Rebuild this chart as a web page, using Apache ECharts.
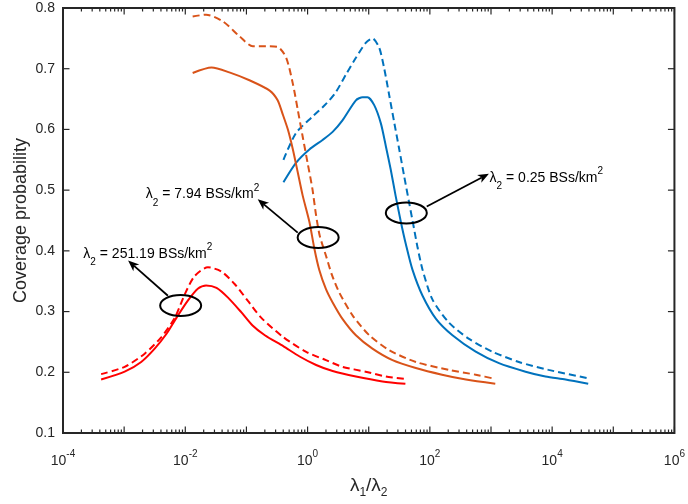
<!DOCTYPE html>
<html><head><meta charset="utf-8">
<script src="https://cdn.jsdelivr.net/npm/echarts@6/dist/echarts.min.js"></script>
<style>html,body{margin:0;padding:0;background:#fff}#c{width:688px;height:504px}#err{position:absolute;left:70px;top:10px;font:10px monospace;color:#a00;width:600px;white-space:pre-wrap}</style>
</head><body><div id="c"></div><div id="err"></div>
<script>
const errBox = document.getElementById('err');
const logErr = (m) => { errBox.textContent += String(m).slice(0, 400) + '\n'; };
window.onerror = (m) => { logErr('ERR ' + m); };

// ---- data (x = lambda1/lambda2, y = coverage probability) ----
const redSolidX = [4.2e-4, 1.02e-3, 1.9e-3, 3.16e-3, 4.9e-3, 7.2e-3, 0.011, 0.0162, 0.0219, 0.0324, 0.050, 0.0822, 0.126, 0.20, 0.40, 0.74, 1.38, 2.57, 6.17, 16.8, 39.8];
const redSolidY = [0.188, 0.201, 0.217, 0.239, 0.263, 0.290, 0.318, 0.338, 0.343, 0.339, 0.323, 0.299, 0.277, 0.261, 0.243, 0.226, 0.212, 0.202, 0.193, 0.185, 0.181];
const redDashX = [4.2e-4, 1.02e-3, 2.19e-3, 4.07e-3, 6.76e-3, 9.77e-3, 0.0141, 0.0234, 0.0389, 0.0646, 0.105, 0.174, 0.40, 0.933, 2.0, 3.72, 8.9, 19.1, 39.8];
const redDashY = [0.197, 0.209, 0.231, 0.258, 0.290, 0.328, 0.358, 0.373, 0.366, 0.345, 0.318, 0.290, 0.258, 0.234, 0.220, 0.209, 0.201, 0.193, 0.189];
const orangeSolidX = [0.0132, 0.0269, 0.0525, 0.112, 0.24, 0.324, 0.389, 0.479, 0.575, 0.692, 0.832, 1.07, 1.29, 1.55, 2.0, 2.57, 3.72, 6.17, 11.5, 24.5, 58.9, 158, 389, 1175];
const orangeSolidY = [0.693, 0.702, 0.694, 0.681, 0.664, 0.648, 0.626, 0.599, 0.567, 0.529, 0.491, 0.448, 0.404, 0.369, 0.337, 0.315, 0.288, 0.261, 0.239, 0.220, 0.207, 0.196, 0.188, 0.181];
const orangeDashX = [0.0132, 0.0219, 0.0412, 0.0776, 0.127, 0.209, 0.324, 0.447, 0.575, 0.692, 0.832, 1.0, 1.2, 1.38, 1.58, 2.0, 2.51, 3.31, 5.5, 10.2, 21.9, 58.9, 204, 562, 1175];
const orangeDashY = [0.786, 0.789, 0.778, 0.753, 0.737, 0.737, 0.736, 0.718, 0.675, 0.632, 0.588, 0.545, 0.502, 0.458, 0.425, 0.392, 0.360, 0.331, 0.293, 0.261, 0.236, 0.217, 0.204, 0.196, 0.189];
const blueSolidX = [0.403, 0.646, 1.07, 1.78, 2.57, 3.72, 6.17, 7.94, 9.55, 12.3, 15.8, 19.1, 22.9, 27.5, 33.5, 40.7, 51.9, 75.9, 126, 234, 562, 1349, 3673, 7762, 16600, 38900];
const blueSolidY = [0.513, 0.545, 0.567, 0.583, 0.596, 0.615, 0.648, 0.653, 0.653, 0.640, 0.610, 0.572, 0.534, 0.491, 0.448, 0.410, 0.369, 0.326, 0.288, 0.261, 0.234, 0.215, 0.201, 0.193, 0.188, 0.181];
const blueDashX = [0.403, 0.646, 1.2, 2.0, 2.88, 4.27, 6.17, 9.02, 11.5, 14.8, 17.8, 21.4, 26.3, 31.6, 38.0, 45.7, 55, 63.1, 75.9, 110, 204, 437, 1047, 2851, 8710, 38900];
const blueDashY = [0.550, 0.594, 0.621, 0.642, 0.661, 0.691, 0.718, 0.743, 0.750, 0.735, 0.702, 0.659, 0.610, 0.567, 0.523, 0.480, 0.437, 0.405, 0.369, 0.320, 0.282, 0.255, 0.234, 0.217, 0.204, 0.190];

const yTicks = [0.1, 0.2, 0.3, 0.4, 0.5, 0.6, 0.7, 0.8];
const xLabelExponents = [-4, -2, 0, 2, 4, 6];
const X_MIN = 1e-4, X_MAX = 1e6, Y_MIN = 0.1, Y_MAX = 0.8;

// annotations (data coordinates)
const annEllipses = [[0.0084, 0.310], [1.49, 0.422], [41.2, 0.4625]];
const annArrows = [[[5.2e-3, 0.326], [1.16e-3, 0.384]], [[0.69, 0.430], [0.153, 0.485]], [[88.9, 0.473], [925, 0.527]]];
const annTextPos = [[2.15e-4, 0.395], [2.26e-3, 0.493], [948, 0.520]];
const annTextValues = ['251.19', '7.94', '0.25'];

const AX = '#262626';
const FONT = '"Liberation Sans", Arial, sans-serif';
const pair = (xs, ys) => xs.map((x, i) => [x, ys[i]]);

// tick positions
const majorXTicks = [], minorXTicks = [];
for (let n = -4; n <= 6; n++) majorXTicks.push(Math.pow(10, n));
for (let n = -4; n < 6; n++) for (let k = 2; k <= 9; k++) minorXTicks.push(k * Math.pow(10, n));

function mkLine(name, xs, ys, color, dashed) {
  return {
    name, type: 'line', xAxisIndex: 0, yAxisIndex: 0, data: pair(xs, ys),
    showSymbol: false, symbol: 'none', smooth: 0.25, clip: true,
    lineStyle: { color, width: 2, type: dashed ? [7, 4] : 'solid' },
    z: 3
  };
}

try {
const chart = echarts.init(document.getElementById('c'));
chart.setOption({
  animation: false,
  backgroundColor: '#fff',
  textStyle: { fontFamily: FONT },
  grid: { left: 63, right: 12, top: 8, bottom: 65 },
  xAxis: [{
    type: 'log', logBase: 10, min: X_MIN, max: X_MAX, splitNumber: 10,
    splitLine: { show: false }, minorTick: { show: false },
    axisLine: { show: false }, axisTick: { show: false },
    axisLabel: {
      show: true, margin: 16, color: AX,
      formatter: v => {
        const e = Math.round(Math.log10(v));
        return xLabelExponents.indexOf(e) >= 0 ? '{b|10}{s|' + e + '}' : '';
      },
      rich: {
        b: { fontSize: 14, fontFamily: FONT, color: AX },
        s: { fontSize: 10, fontFamily: FONT, color: AX, padding: [0, 0, 14, 0] }
      }
    },
    name: '{l|λ}{s|1}{m|/}{l|λ}{s|2}',
    nameLocation: 'middle', nameGap: 40, nameMoveOverlap: false,
    nameTextStyle: {
      rich: {
        l: { fontSize: 19, fontFamily: FONT, color: AX },
        m: { fontSize: 19, fontFamily: FONT, color: AX },
        s: { fontSize: 12, fontFamily: FONT, color: AX, padding: [14, 0, 0, 0] }
      }
    }
  }],
  yAxis: [{
    type: 'value', min: Y_MIN, max: Y_MAX, interval: 0.1,
    axisLine: { show: false }, axisTick: { show: false }, splitLine: { show: false },
    axisLabel: { color: AX, fontSize: 14, fontFamily: FONT, margin: 8,
      formatter: v => { const t = yTicks.find(y => Math.abs(y - v) < 1e-6); return t === undefined ? '' : t.toFixed(1); } },
    name: 'Coverage probability', nameLocation: 'middle', nameGap: 33, nameMoveOverlap: false,
    nameTextStyle: { fontSize: 18, fontFamily: FONT, color: AX }
  }],
  series: [
    mkLine('0.25 solid', blueSolidX, blueSolidY, '#0072BD', false),
    mkLine('0.25 dashed', blueDashX, blueDashY, '#0072BD', true),
    mkLine('7.94 solid', orangeSolidX, orangeSolidY, '#D95319', false),
    mkLine('7.94 dashed', orangeDashX, orangeDashY, '#D95319', true),
    mkLine('251.19 solid', redSolidX, redSolidY, '#FF0000', false),
    mkLine('251.19 dashed', redDashX, redDashY, '#FF0000', true),
    {
      name: 'axes box', type: 'custom', xAxisIndex: 0, yAxisIndex: 0, silent: true, clip: false, z: 6,
      data: [[X_MIN, Y_MIN]],
      renderItem: (params, api) => {
        const p0 = api.coord([X_MIN, Y_MIN]), p1 = api.coord([X_MAX, Y_MAX]);
        const st = { stroke: AX, lineWidth: 1.2 };
        const kids = [];
        const ln = (x1, y1, x2, y2) => kids.push({ type: 'line', shape: { x1, y1, x2, y2 }, style: st });
        majorXTicks.forEach(v => { const x = api.coord([v, Y_MIN])[0]; ln(x, p0[1], x, p0[1] - 6.5); ln(x, p1[1], x, p1[1] + 6.5); });
        minorXTicks.forEach(v => { const x = api.coord([v, Y_MIN])[0]; ln(x, p0[1], x, p0[1] - 3.5); ln(x, p1[1], x, p1[1] + 3.5); });
        yTicks.forEach(v => { const y = api.coord([X_MIN, v])[1]; ln(p0[0], y, p0[0] + 6.5, y); ln(p1[0], y, p1[0] - 6.5, y); });
        kids.push({ type: 'rect', shape: { x: p0[0], y: p1[1], width: p1[0] - p0[0], height: p0[1] - p1[1] },
          style: { fill: 'none', stroke: AX, lineWidth: 2 } });
        return { type: 'group', children: kids };
      }
    }
  ]
});

function px(p) { return chart.convertToPixel({ xAxisIndex: 0, yAxisIndex: 0 }, p); }
const graphics = [];
annEllipses.forEach(c => {
  const p = px(c);
  graphics.push({ type: 'ellipse', shape: { cx: p[0], cy: p[1], rx: 20.5, ry: 10.5 },
    style: { fill: 'none', stroke: '#000', lineWidth: 2 }, z: 10 });
});
annArrows.forEach(a => {
  const s = px(a[0]), t = px(a[1]);
  const dx = t[0] - s[0], dy = t[1] - s[1], L = Math.hypot(dx, dy);
  const ux = dx / L, uy = dy / L, nx = -uy, ny = ux;
  const hl = 11, hw = 4.5, ind = 3;
  const bx = t[0] - ux * hl, by = t[1] - uy * hl;
  graphics.push({ type: 'line', shape: { x1: s[0], y1: s[1], x2: t[0] - ux * (hl - ind), y2: t[1] - uy * (hl - ind) },
    style: { stroke: '#000', lineWidth: 1.8 }, z: 10 });
  graphics.push({ type: 'polygon', shape: { points: [
      [t[0], t[1]], [bx + nx * hw, by + ny * hw], [t[0] - ux * (hl - ind), t[1] - uy * (hl - ind)], [bx - nx * hw, by - ny * hw]] },
    style: { fill: '#000' }, z: 10 });
});
annTextPos.forEach((c, i) => {
  const p = px(c);
  graphics.push({ type: 'text', x: p[0], y: p[1], z: 10,
    style: {
      text: '{l|λ}{s|2}{m| = ' + annTextValues[i] + ' BSs/km}{p|2}',
      align: 'left', verticalAlign: 'middle',
      rich: {
        l: { fontSize: 14, fontFamily: FONT, fill: '#000' },
        m: { fontSize: 14, fontFamily: FONT, fill: '#000' },
        s: { fontSize: 10, fontFamily: FONT, fill: '#000', padding: [17, 0, 0, 0] },
        p: { fontSize: 10, fontFamily: FONT, fill: '#000', padding: [0, 0, 13, 0] }
      }
    } });
});
chart.setOption({ graphic: graphics });
} catch (e) { logErr('CATCH ' + e.message + ' ' + (e.stack || '').slice(0, 300)); }
</script>
</body></html>
